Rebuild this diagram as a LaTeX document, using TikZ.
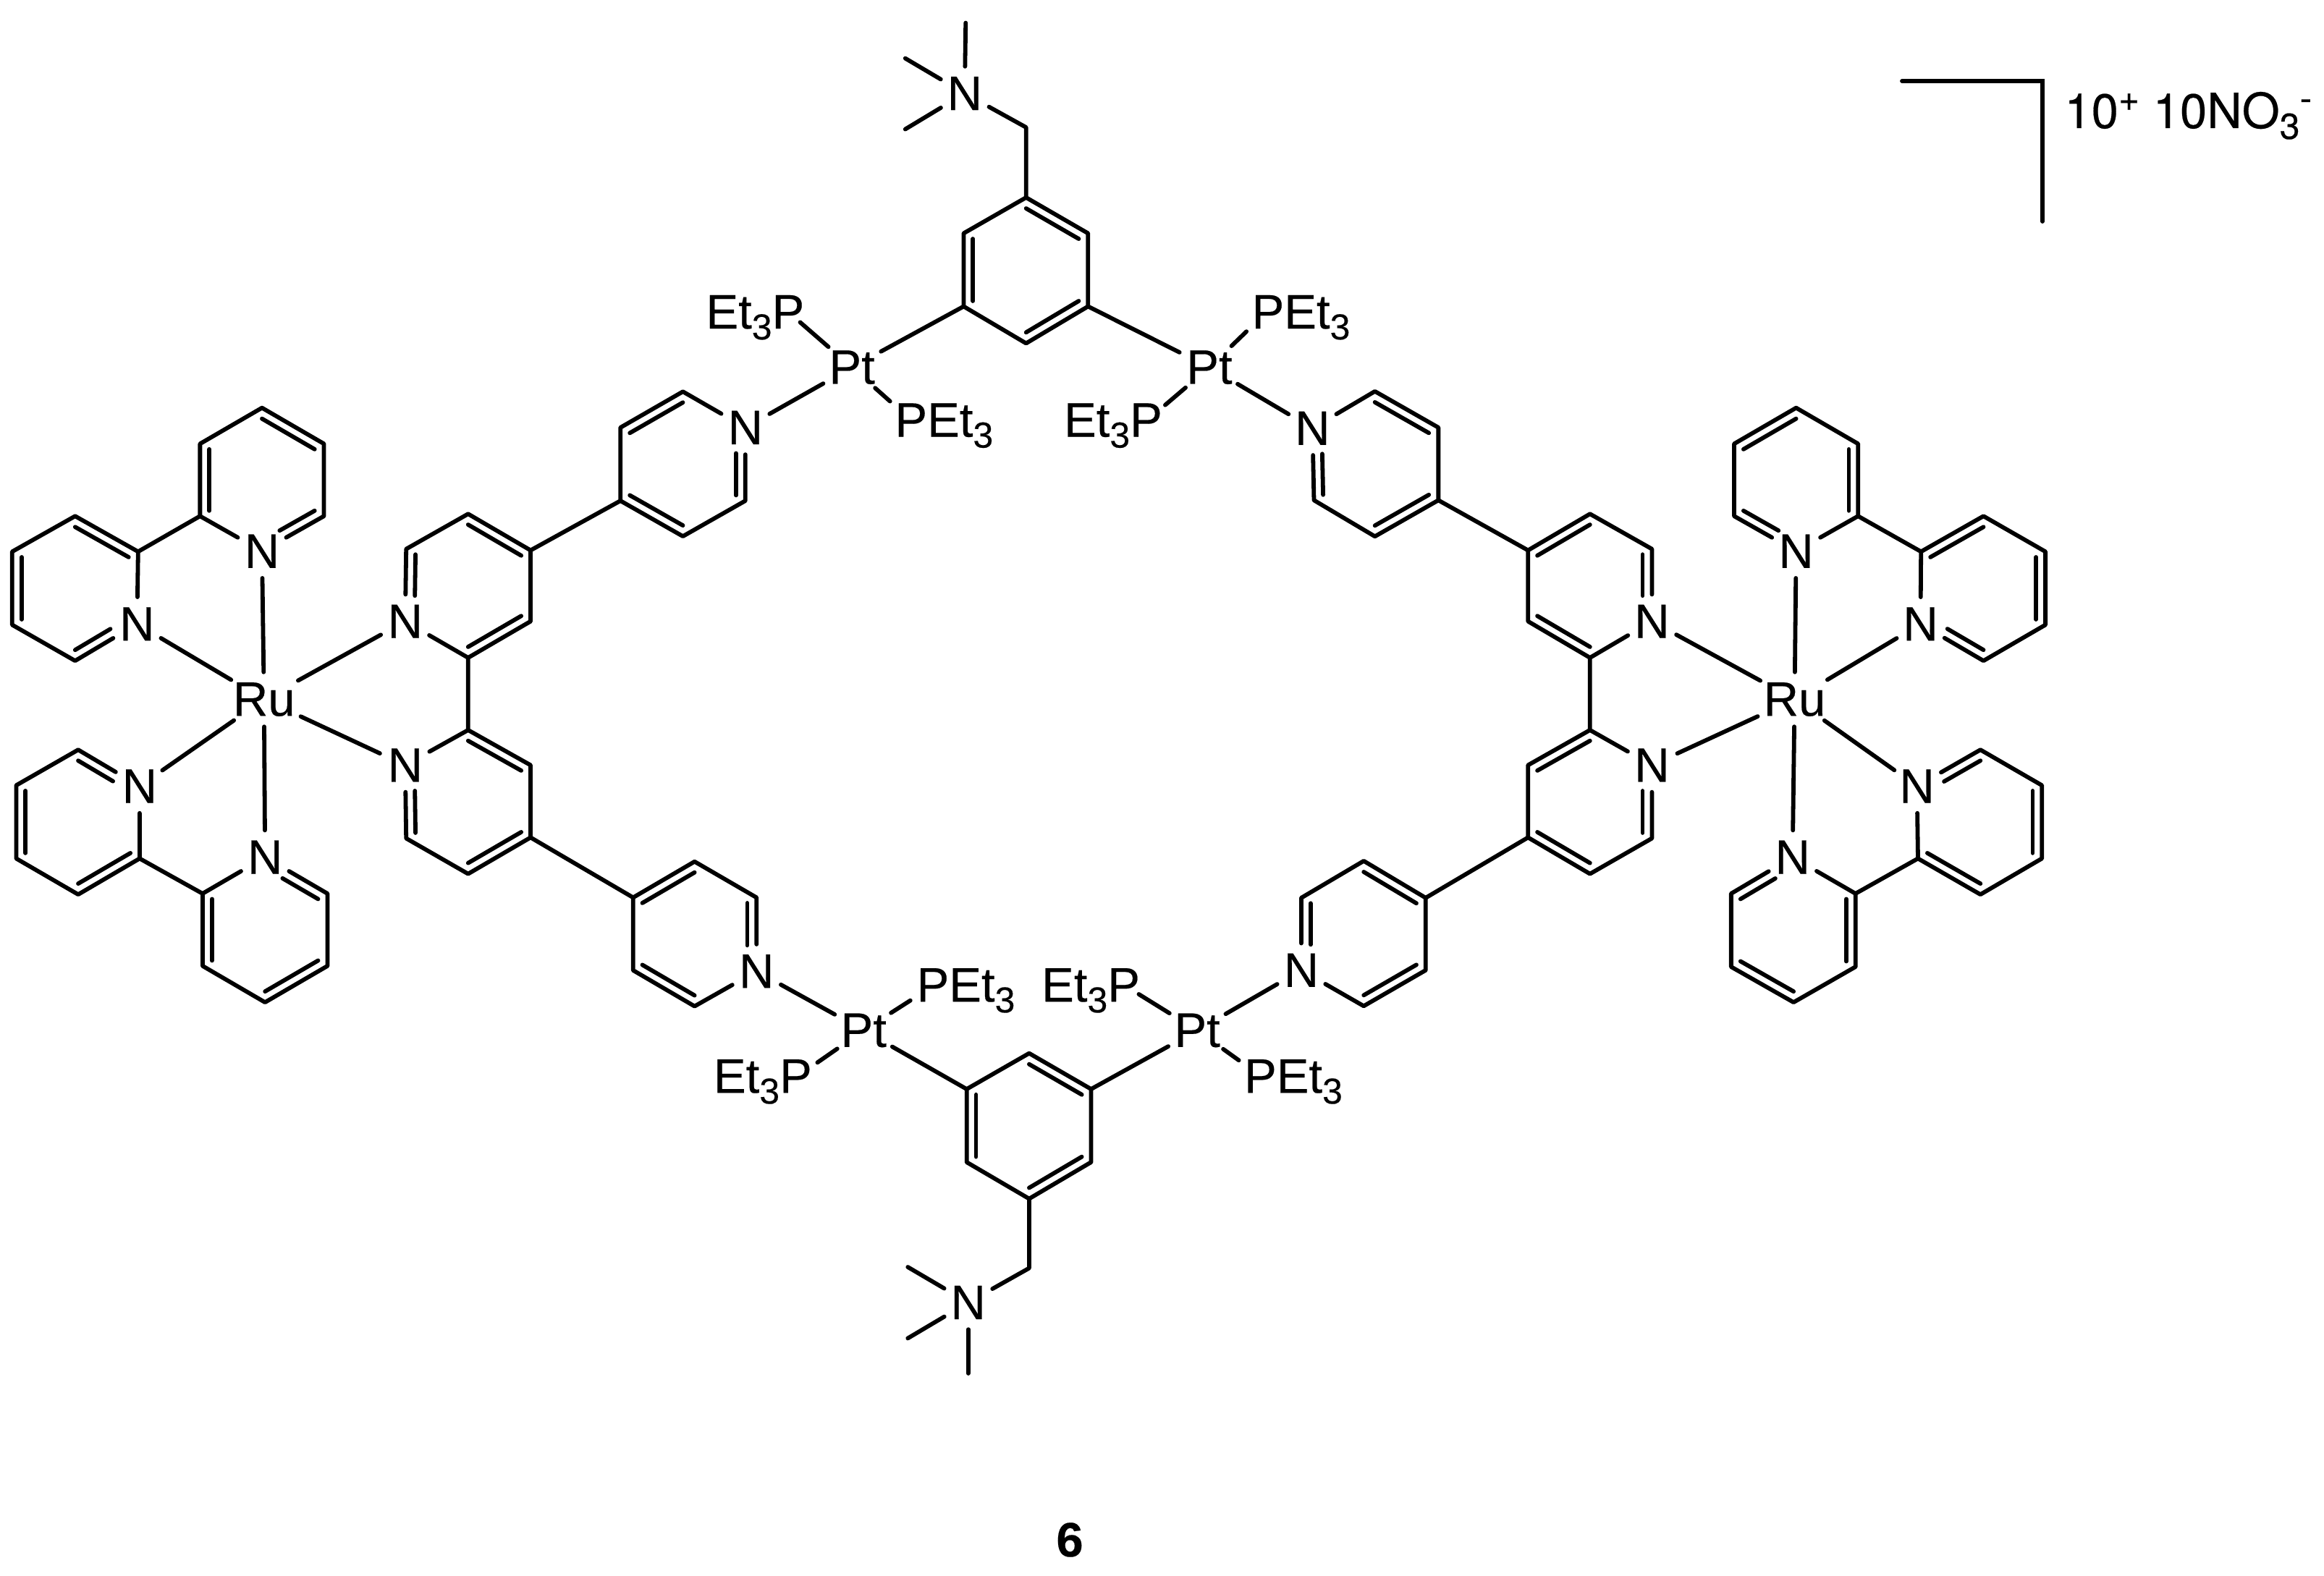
\documentclass[tikz,border=0pt]{standalone}
\usepackage{fontspec}
\setmainfont{Liberation Sans}[FakeBold=0.3]
\newfontfamily\heros{TeX Gyre Heros}[FakeBold=0.3]
\usetikzlibrary{calc,shapes.geometric}
\newcommand\chemsub[1]{\raisebox{-7.5pt}{\fontsize{25pt}{30pt}\selectfont #1}}
\newcommand\chemsup[1]{\raisebox{12pt}{\fontsize{25pt}{30pt}\selectfont #1}}
% inner line of a double bond: ring edge A-B pulled towards ring centre C
\newcommand\dbl[3]{\draw[bond] ($(#1)!.15!(#3)$) -- ($(#2)!.15!(#3)$);}
% same, when the edge ends at a labelled atom (second argument)
\newcommand\dbn[3]{\draw[bond,shorten >=14pt] ($(#1)!.15!(#3)$) -- ($(#2)!.15!(#3)$);}
\tikzset{
  bond/.style={line width=2.9pt,line cap=round,line join=round,black},
  atom/.style={ellipse,inner sep=1.5pt,font=\fontsize{33.5pt}{40pt}\selectfont},
  lig/.style={inner sep=0pt,anchor=base west,font=\fontsize{33.5pt}{40pt}\selectfont},
  zwide/.style={x=0.35075pt,y=-0.30294pt},
  ztall/.style={x=0.35075pt,y=-0.2551pt}
}
\begin{document}
\begin{tikzpicture}
\useasboundingbox (0,0) rectangle (1605.5pt,-1089pt);

%% ---------- left metal centre ----------
\begin{scope}[shift={(0pt,-250pt)},zwide]
\node[atom] (RuL) at (520,770) {Ru};
\node[atom] (nA) at (516,432) {N};
\node[atom] (nB) at (270,598) {N};
\node[atom] (nC) at (275,968) {N};
\node[atom] (nD) at (522,1130) {N};
\node[atom] (nE) at (798,592) {N};
\node[atom] (nF) at (798,920) {N};
\node[atom] (nG) at (1468,150) {N};
\node[atom] (nH) at (1490,1390) {N};
\coordinate (a1) at (516,105); \coordinate (a2) at (638,187); \coordinate (a3) at (638,352);
\coordinate (a5) at (394,352); \coordinate (a6) at (394,187); \coordinate (aC) at (516,270);
\coordinate (b1) at (272,433); \coordinate (b3) at (148,682); \coordinate (b4) at (24,600);
\coordinate (b5) at (24,433); \coordinate (b6) at (148,352); \coordinate (bC) at (148,517);
\coordinate (c1) at (154,885); \coordinate (c2) at (32,966); \coordinate (c3) at (32,1133);
\coordinate (c4) at (154,1215); \coordinate (c5) at (275,1133); \coordinate (cC) at (154,1050);
\coordinate (d1) at (399,1213); \coordinate (d2) at (399,1378); \coordinate (d3) at (522,1461);
\coordinate (d4) at (645,1378); \coordinate (d5) at (645,1213); \coordinate (dC) at (522,1296);
\coordinate (e1) at (922,675); \coordinate (e2) at (1045,592); \coordinate (e3) at (1045,430);
\coordinate (e4) at (922,347); \coordinate (e5) at (800,427); \coordinate (eC) at (922,510);
\coordinate (f1) at (922,840); \coordinate (f2) at (1045,920); \coordinate (f3) at (1045,1085);
\coordinate (f4) at (922,1168); \coordinate (f5) at (800,1087); \coordinate (fC) at (922,1003);
\coordinate (g1) at (1222,317); \coordinate (g2) at (1222,150); \coordinate (g3) at (1345,68);
\coordinate (g5) at (1468,317); \coordinate (g6) at (1345,398); \coordinate (gC) at (1345,233);
\coordinate (h1) at (1247,1222); \coordinate (h2) at (1247,1388); \coordinate (h3) at (1368,1470);
\coordinate (h5) at (1490,1222); \coordinate (h6) at (1368,1140); \coordinate (hC) at (1368,1305);
\end{scope}

%% ---------- right metal centre ----------
\begin{scope}[shift={(1050pt,-250pt)},zwide]
\node[atom] (RuR) at (541,770) {Ru};
\node[atom] (qnA) at (544,432) {N};
\node[atom] (qnB) at (789,598) {N};
\node[atom] (qnC) at (782,968) {N};
\node[atom] (qnD) at (537,1130) {N};
\node[atom] (qnE) at (260,592) {N};
\node[atom] (qnF) at (260,920) {N};
\coordinate (qa1) at (544,105); \coordinate (qa2) at (666,187); \coordinate (qa3) at (666,352);
\coordinate (qa5) at (422,352); \coordinate (qa6) at (422,187); \coordinate (qaC) at (544,270);
\coordinate (qb1) at (790,433); \coordinate (qb3) at (913,682); \coordinate (qb4) at (1035,600);
\coordinate (qb5) at (1035,433); \coordinate (qb6) at (913,352); \coordinate (qbC) at (913,517);
\coordinate (qc1) at (907,885); \coordinate (qc2) at (1028,966); \coordinate (qc3) at (1028,1133);
\coordinate (qc4) at (907,1215); \coordinate (qc5) at (784,1133); \coordinate (qcC) at (907,1050);
\coordinate (qd1) at (661,1213); \coordinate (qd2) at (661,1380); \coordinate (qd3) at (539,1461);
\coordinate (qd4) at (416,1380); \coordinate (qd5) at (416,1213); \coordinate (qdC) at (539,1296);
\coordinate (qe1) at (138,675); \coordinate (qe2) at (16,592); \coordinate (qe3) at (16,430);
\coordinate (qe4) at (138,347); \coordinate (qe5) at (260,427); \coordinate (qeC) at (138,510);
\coordinate (qf1) at (138,840); \coordinate (qf2) at (16,920); \coordinate (qf3) at (16,1085);
\coordinate (qf4) at (138,1168); \coordinate (qf5) at (260,1087); \coordinate (qfC) at (138,1003);
\end{scope}

%% ---------- top linker ----------
\begin{scope}[shift={(450pt,0pt)},ztall]
\node[atom] (nM) at (617,253) {N};
\node[atom] (ptTL) at (395,995) {Pt};
\node[atom] (ptTR) at (1099,995) {Pt};
\node[atom] (nR) at (1302,1160) {N};
\node[lig] (etTL) at (107,890) {Et\chemsub{3}P};
\node[lig] (peTL) at (479,1183) {PEt\chemsub{3}};
\node[lig] (peTR) at (1182,890) {PEt\chemsub{3}};
\node[lig] (etTR) at (812,1183) {Et\chemsub{3}P};
\coordinate (etTLe) at (293,873); \coordinate (peTLe) at (470,1087);
\coordinate (peTRe) at (1172,898); \coordinate (etTRe) at (1012,1097);
\coordinate (k1) at (738,535); \coordinate (k2) at (860,632); \coordinate (k3) at (860,830);
\coordinate (k4) at (738,930); \coordinate (k5) at (615,830); \coordinate (k6) at (615,632);
\coordinate (kC) at (738,732);
\coordinate (m1) at (738,345); \coordinate (me1) at (619,62); \coordinate (me2) at (500,158);
\coordinate (me3) at (500,350);
\coordinate (r2) at (1425,1060); \coordinate (r3) at (1550,1158); \coordinate (r4) at (1550,1355);
\coordinate (r5) at (1425,1453); \coordinate (r6) at (1305,1355); \coordinate (rC) at (1425,1257);
\end{scope}

%% ---------- bottom linker ----------
\begin{scope}[shift={(450pt,-625pt)},ztall]
\node[atom] (nW) at (624,1078) {N};
\node[atom] (ptBL) at (418,341) {Pt};
\node[atom] (ptBR) at (1075,341) {Pt};
\node[atom] (nS) at (1280,178) {N};
\node[lig] (peBL) at (522,263) {PEt\chemsub{3}};
\node[lig] (etBL) at (122,510) {Et\chemsub{3}P};
\node[lig] (etBR) at (768,263) {Et\chemsub{3}P};
\node[lig] (peBR) at (1167,510) {PEt\chemsub{3}};
\coordinate (peBLe) at (510,260); \coordinate (etBLe) at (327,428);
\coordinate (etBRe) at (960,243); \coordinate (peBRe) at (1157,422);
\coordinate (w1) at (744,797); \coordinate (w2) at (866,698); \coordinate (w3) at (866,500);
\coordinate (w4) at (744,403); \coordinate (w5) at (621,500); \coordinate (w6) at (621,698);
\coordinate (wC) at (744,600);
\coordinate (x1) at (744,985); \coordinate (xe1) at (505,982); \coordinate (xe2) at (505,1175);
\coordinate (xe3) at (624,1270);
\coordinate (s2) at (1280,-18); \coordinate (s3) at (1403,-118); \coordinate (s4) at (1525,-18);
\coordinate (s5) at (1525,178); \coordinate (s6) at (1403,275); \coordinate (sC) at (1403,80);
\end{scope}

%% ---------- bonds: left complex ----------
\draw[bond] (a1) -- (a2) -- (a3) -- (nA) -- (a5) -- (a6) -- (a1);
\draw[bond] (a5) -- (b1) -- (nB) -- (b3) -- (b4) -- (b5) -- (b6) -- (b1);
\draw[bond] (c5) -- (nC) -- (c1) -- (c2) -- (c3) -- (c4) -- (c5) -- (d1) -- (nD) -- (d5) -- (d4) -- (d3) -- (d2) -- (d1);
\draw[bond] (e1) -- (e2) -- (e3) -- (e4) -- (e5) -- (nE) -- (e1) -- (f1) -- (f2) -- (f3) -- (f4) -- (f5) -- (nF) -- (f1);
\draw[bond] (g1) -- (g2) -- (g3) -- (nG) -- (g5) -- (g6) -- (g1) -- (e3);
\draw[bond] (h1) -- (h2) -- (h3) -- (nH) -- (h5) -- (h6) -- (h1) -- (f3);
\foreach \n in {nA,nB,nC,nD,nE,nF} \draw[bond] (RuL) -- (\n);
\dbl{a1}{a2}{aC} \dbn{a3}{nA}{aC} \dbl{a5}{a6}{aC}
\dbl{b1}{b6}{bC} \dbl{b4}{b5}{bC} \dbn{b3}{nB}{bC}
\dbn{c1}{nC}{cC} \dbl{c2}{c3}{cC} \dbl{c4}{c5}{cC}
\dbn{d5}{nD}{dC} \dbl{d1}{d2}{dC} \dbl{d3}{d4}{dC}
\dbl{e1}{e2}{eC} \dbl{e3}{e4}{eC} \dbn{e5}{nE}{eC}
\dbl{f1}{f2}{fC} \dbl{f3}{f4}{fC} \dbn{f5}{nF}{fC}
\dbl{g1}{g6}{gC} \dbl{g2}{g3}{gC} \dbn{g5}{nG}{gC}
\dbl{h1}{h6}{hC} \dbl{h2}{h3}{hC} \dbn{h5}{nH}{hC}

%% ---------- bonds: right complex ----------
\draw[bond] (qa1) -- (qa2) -- (qa3) -- (qnA) -- (qa5) -- (qa6) -- (qa1);
\draw[bond] (qa3) -- (qb1) -- (qnB) -- (qb3) -- (qb4) -- (qb5) -- (qb6) -- (qb1);
\draw[bond] (qc5) -- (qnC) -- (qc1) -- (qc2) -- (qc3) -- (qc4) -- (qc5) -- (qd1) -- (qnD) -- (qd5) -- (qd4) -- (qd3) -- (qd2) -- (qd1);
\draw[bond] (qe1) -- (qe2) -- (qe3) -- (qe4) -- (qe5) -- (qnE) -- (qe1) -- (qf1) -- (qf2) -- (qf3) -- (qf4) -- (qf5) -- (qnF) -- (qf1);
\foreach \n in {qnA,qnB,qnC,qnD,qnE,qnF} \draw[bond] (RuR) -- (\n);
\dbl{qa6}{qa1}{qaC} \dbl{qa2}{qa3}{qaC} \dbn{qa5}{qnA}{qaC}
\dbl{qb1}{qb6}{qbC} \dbl{qb5}{qb4}{qbC} \dbn{qb3}{qnB}{qbC}
\dbn{qc1}{qnC}{qcC} \dbl{qc2}{qc3}{qcC} \dbl{qc4}{qc5}{qcC}
\dbn{qd5}{qnD}{qdC} \dbl{qd1}{qd2}{qdC} \dbl{qd3}{qd4}{qdC}
\dbl{qe1}{qe2}{qeC} \dbl{qe3}{qe4}{qeC} \dbn{qe5}{qnE}{qeC}
\dbl{qf1}{qf2}{qfC} \dbl{qf3}{qf4}{qfC} \dbn{qf5}{qnF}{qfC}

%% ---------- bonds: top linker ----------
\draw[bond] (k1) -- (k2) -- (k3) -- (k4) -- (k5) -- (k6) -- (k1) -- (m1) -- (nM);
\foreach \n in {me1,me2,me3} \draw[bond] (nM) -- (\n);
\dbl{k1}{k2}{kC} \dbl{k3}{k4}{kC} \dbl{k5}{k6}{kC}
\draw[bond] (k5) -- (ptTL); \draw[bond] (k3) -- (ptTR);
\draw[bond] (ptTL) -- (etTLe); \draw[bond] (ptTL) -- (peTLe); \draw[bond] (ptTL) -- (nG);
\draw[bond] (ptTR) -- (peTRe); \draw[bond] (ptTR) -- (etTRe); \draw[bond] (ptTR) -- (nR);
\draw[bond] (nR) -- (r2) -- (r3) -- (r4) -- (r5) -- (r6) -- (nR);
\draw[bond] (r4) -- (qe3);
\dbl{r2}{r3}{rC} \dbl{r4}{r5}{rC} \dbn{r6}{nR}{rC}

%% ---------- bonds: bottom linker ----------
\draw[bond] (w1) -- (w2) -- (w3) -- (w4) -- (w5) -- (w6) -- (w1) -- (x1) -- (nW);
\foreach \n in {xe1,xe2,xe3} \draw[bond] (nW) -- (\n);
\dbl{w1}{w2}{wC} \dbl{w3}{w4}{wC} \dbl{w5}{w6}{wC}
\draw[bond] (w5) -- (ptBL); \draw[bond] (w3) -- (ptBR);
\draw[bond] (ptBL) -- (peBLe); \draw[bond] (ptBL) -- (etBLe); \draw[bond] (ptBL) -- (nH);
\draw[bond] (ptBR) -- (etBRe); \draw[bond] (ptBR) -- (peBRe); \draw[bond] (ptBR) -- (nS);
\draw[bond] (nS) -- (s2) -- (s3) -- (s4) -- (s5) -- (s6) -- (nS);
\draw[bond] (s4) -- (qf3);
\dbl{s3}{s4}{sC} \dbl{s5}{s6}{sC} \dbn{s2}{nS}{sC}

%% ---------- bracket and charges ----------
\coordinate (brA) at (1314pt,-56pt);
\coordinate (brB) at (1411pt,-56pt);
\coordinate (brC) at (1411pt,-153pt);
\draw[bond,line join=miter] (brA) -- (brB) -- (brC);
\node[lig] (charge) at (1426pt,-88.5pt) {\heros 10\chemsup{+} 10NO\chemsub{3}\chemsup{-}};
\node[inner sep=0pt,font=\fontsize{33.5pt}{40pt}\selectfont\bfseries] (label) at (739pt,-1064pt) {6};
\end{tikzpicture}
\end{document}
